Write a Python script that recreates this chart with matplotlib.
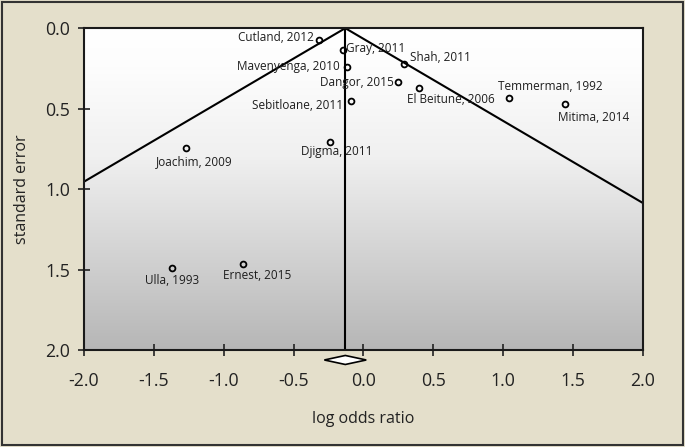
import numpy as np
import matplotlib
matplotlib.use("Agg")
import matplotlib.pyplot as plt
from matplotlib.patches import Polygon, Rectangle
from matplotlib.colors import LinearSegmentedColormap

plt.rcParams['font.family'] = ['Open Sans', 'DejaVu Sans']

# study data
studies = ['Cutland, 2012', 'Gray, 2011', 'Mavenyenga, 2010', 'Shah, 2011',
           'Dangor, 2015', 'El Beitune, 2006', 'Temmerman, 1992', 'Mitima, 2014',
           'Sebitloane, 2011', 'Djigma, 2011', 'Joachim, 2009', 'Ulla, 1993',
           'Ernest, 2015']
log_or = [-0.32, -0.15, -0.12, 0.29, 0.25, 0.40, 1.04, 1.44, -0.09, -0.24,
          -1.27, -1.37, -0.86]
std_err = [0.075, 0.137, 0.24, 0.225, 0.335, 0.37, 0.435, 0.47, 0.45, 0.71,
           0.745, 1.49, 1.465]

pooled = -0.13
ci_low, ci_high = -0.28, 0.02

xticks = [-2.0, -1.5, -1.0, -0.5, 0.0, 0.5, 1.0, 1.5, 2.0]
yticks = [0.0, 0.5, 1.0, 1.5, 2.0]

# label placement: (dx px, dy px, ha)
label_pos = {
    'Cutland, 2012': (-5, 3, 'right'),
    'Gray, 2011': (4, 2, 'left'),
    'Mavenyenga, 2010': (-7, 0, 'right'),
    'Shah, 2011': (6, 7, 'left'),
    'Dangor, 2015': (-5, 0, 'right'),
    'El Beitune, 2006': (-12, -12, 'left'),
    'Temmerman, 1992': (-11, 12, 'left'),
    'Mitima, 2014': (-7, -14, 'left'),
    'Sebitloane, 2011': (-8, -5, 'right'),
    'Djigma, 2011': (7, -9, 'center'),
    'Joachim, 2009': (8, -14, 'center'),
    'Ulla, 1993': (0, -13, 'center'),
    'Ernest, 2015': (14, -12, 'center'),
}

fig = plt.figure(figsize=(6.85, 4.47), dpi=100, facecolor='#E4DFCB')
ax = fig.add_axes([0.1226, 0.217, 0.816, 0.720])

# grey gradient background
grad = np.linspace(0, 1, 256).reshape(-1, 1)
cmap = LinearSegmentedColormap.from_list(
    'bg', [(0.0, '#FFFFFF'), (0.12, '#FDFDFD'), (0.4, '#F0F0F0'), (1.0, '#B6B6B6')])
ax.imshow(grad, cmap=cmap, extent=[-2, 2, 2, 0], aspect='auto', zorder=0)

# funnel
se_line = np.array([0.0, 2.0])
ax.plot(pooled - 1.96 * se_line, se_line, color='black', lw=1.5, zorder=2)
ax.plot(pooled + 1.96 * se_line, se_line, color='black', lw=1.5, zorder=2)
ax.plot([pooled, pooled], [0, 2], color='black', lw=1.5, zorder=2)

ax.plot(log_or, std_err, 'o', mfc='none', mec='black', mew=1.3, ms=4.2, zorder=3)
for name, x, y in zip(studies, log_or, std_err):
    dx, dy, ha = label_pos[name]
    ax.annotate(name, (x, y), xytext=(dx, dy), textcoords='offset pixels',
                ha=ha, va='center', fontsize=8.5, color='#1e1e1e', zorder=4)

# summary diamond below the axis
y0, h = 2.062, 0.028
diamond = Polygon([(ci_low, y0), (pooled, y0 - h), (ci_high, y0), (pooled, y0 + h)],
                  closed=True, fc='white', ec='black', lw=1.2, clip_on=False, zorder=5)
ax.add_patch(diamond)

ax.set_xlim(-2, 2)
ax.set_ylim(2, 0)
ax.set_xticks(xticks)
ax.set_yticks(yticks)
ax.set_xticklabels(['%.1f' % t for t in xticks])
ax.set_yticklabels(['%.1f' % t for t in yticks])
ax.tick_params(axis='x', direction='inout', length=8, width=1.2, pad=12,
               labelsize=12.8, colors='#222222')
ax.tick_params(axis='y', direction='inout', length=8, width=1.2, pad=6,
               labelsize=12.8, colors='#222222')
for s in ax.spines.values():
    s.set_linewidth(1.5)
    s.set_color('#1a1a1a')

ax.set_xlabel('log odds ratio', fontsize=11.5, color='#222222', labelpad=15)
ax.set_ylabel('standard error', fontsize=11.5, color='#222222', va='center')
ax.yaxis.set_label_coords(-0.111, 0.5)

fig.patches.append(Rectangle((0.003, 0.005), 0.994, 0.99, transform=fig.transFigure,
                             fill=False, ec='#333333', lw=1.5))

fig.savefig('out.png', dpi=100, facecolor=fig.get_facecolor())
